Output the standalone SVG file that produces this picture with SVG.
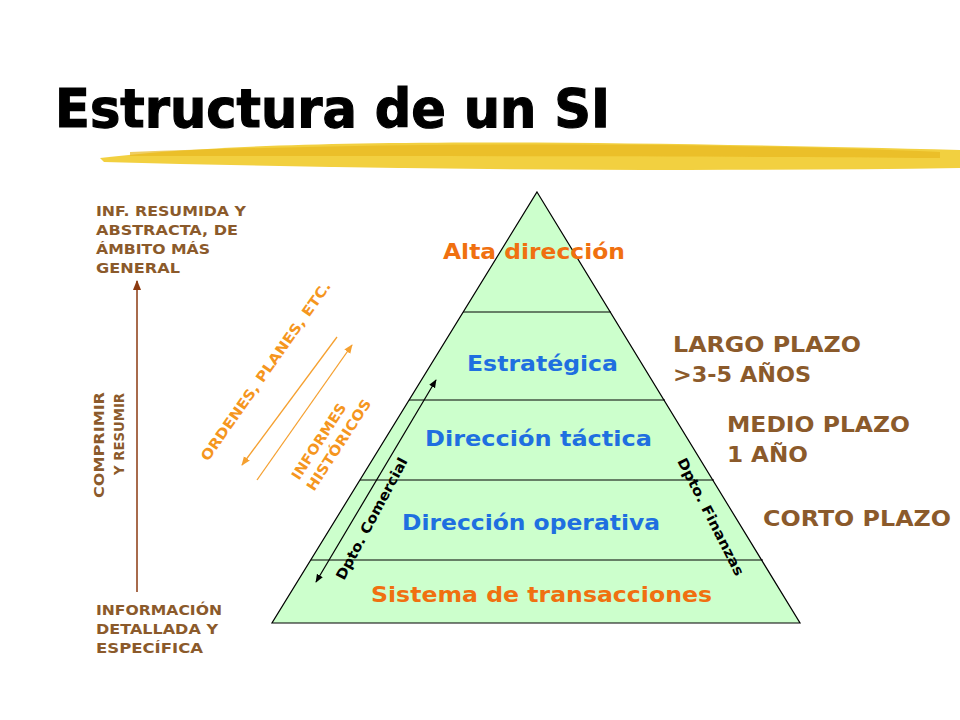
<svg xmlns="http://www.w3.org/2000/svg" width="960" height="720" viewBox="0 0 960 720">
<defs>
<style>
.t{font-family:"DejaVu Sans",Verdana,sans-serif;font-weight:bold}
.br{fill:#8B5A2B}
.bl{fill:#1F6FE0}
.or{fill:#F07010}
.oa{fill:#F5961E}
</style>
<marker id="mb" viewBox="0 0 10 10" refX="9" refY="5" markerWidth="7" markerHeight="7" orient="auto-start-reverse"><path d="M0,1 L10,5 L0,9z" fill="#000"/></marker>
<marker id="mo" viewBox="0 0 10 10" refX="9" refY="5" markerWidth="7" markerHeight="7" orient="auto"><path d="M0,1 L10,5 L0,9z" fill="#F5A030"/></marker>
<marker id="mr" viewBox="0 0 10 10" refX="9" refY="5" markerWidth="7" markerHeight="7" orient="auto"><path d="M0,1 L10,5 L0,9z" fill="#8B3A10"/></marker>
</defs>
<rect width="960" height="720" fill="#fff"/>
<text class="t" x="55" y="127" font-size="54" fill="#000" stroke="#000" stroke-width="1.2" textLength="555" lengthAdjust="spacingAndGlyphs">Estructura de un SI</text>
<g id="brush">
<path d="M100,158 C250,140 500,138 960,150 L960,168 C700,172 400,170 104,162 Z" fill="#F2D040"/>
<path d="M130,152 C400,142 700,142 940,152 L940,158 C700,156 400,156 130,156 Z" fill="#E8B820" opacity="0.7"/>
</g>
<g id="pyramid">
<path d="M537,192 L800,623 L272,623 Z" fill="#CCFFCC" stroke="#000" stroke-width="1.2"/>
<line x1="463" y1="312" x2="611" y2="312" stroke="#000"/>
<line x1="409" y1="400" x2="665" y2="400" stroke="#000"/>
<line x1="360" y1="480" x2="714" y2="480" stroke="#000"/>
<line x1="311" y1="560" x2="763" y2="560" stroke="#000"/>
</g>
<g id="levels">
<text class="t or" x="443" y="259" font-size="21" textLength="182" lengthAdjust="spacingAndGlyphs">Alta dirección</text>
<text class="t bl" x="467" y="371" font-size="21" textLength="151" lengthAdjust="spacingAndGlyphs">Estratégica</text>
<text class="t bl" x="425" y="446" font-size="21" textLength="227" lengthAdjust="spacingAndGlyphs">Dirección táctica</text>
<text class="t bl" x="402" y="530" font-size="21" textLength="258" lengthAdjust="spacingAndGlyphs">Dirección operativa</text>
<text class="t or" x="371" y="602" font-size="21" textLength="341" lengthAdjust="spacingAndGlyphs">Sistema de transacciones</text>
</g>
<g id="plazos">
<text class="t br" x="673" y="352" font-size="21" textLength="188" lengthAdjust="spacingAndGlyphs">LARGO PLAZO</text>
<text class="t br" x="673" y="382" font-size="21" textLength="138" lengthAdjust="spacingAndGlyphs">&gt;3-5 AÑOS</text>
<text class="t br" x="727" y="432" font-size="21" textLength="183" lengthAdjust="spacingAndGlyphs">MEDIO PLAZO</text>
<text class="t br" x="727" y="462" font-size="21" textLength="81" lengthAdjust="spacingAndGlyphs">1 AÑO</text>
<text class="t br" x="763" y="526" font-size="21" textLength="188" lengthAdjust="spacingAndGlyphs">CORTO PLAZO</text>
</g>
<g id="left" class="t br" font-size="14">
<text class="t br" x="96" y="216" textLength="150" lengthAdjust="spacingAndGlyphs">INF. RESUMIDA Y</text>
<text class="t br" x="96" y="235" textLength="142" lengthAdjust="spacingAndGlyphs">ABSTRACTA, DE</text>
<text class="t br" x="96" y="254" textLength="114" lengthAdjust="spacingAndGlyphs">ÁMBITO MÁS</text>
<text class="t br" x="96" y="273" textLength="84" lengthAdjust="spacingAndGlyphs">GENERAL</text>
<text class="t br" x="96" y="615" textLength="126" lengthAdjust="spacingAndGlyphs">INFORMACIÓN</text>
<text class="t br" x="96" y="634" textLength="122" lengthAdjust="spacingAndGlyphs">DETALLADA Y</text>
<text class="t br" x="96" y="653" textLength="107" lengthAdjust="spacingAndGlyphs">ESPECÍFICA</text>
<text class="t br" transform="translate(104,498) rotate(-90)" textLength="106" lengthAdjust="spacingAndGlyphs">COMPRIMIR</text>
<text class="t br" transform="translate(124,475) rotate(-90)" textLength="82" lengthAdjust="spacingAndGlyphs">Y RESUMIR</text>
</g>
<g id="connectors">
<line x1="137" y1="592" x2="137" y2="281" stroke="#8B3A10" stroke-width="1.5" marker-end="url(#mr)"/>
<line x1="337" y1="337" x2="242" y2="465" stroke="#F5A030" stroke-width="1.3" marker-end="url(#mo)"/>
<line x1="257" y1="480" x2="352" y2="345" stroke="#F5A030" stroke-width="1.3" marker-end="url(#mo)"/>
<line x1="316" y1="582" x2="436" y2="380" stroke="#000" stroke-width="1.2" marker-start="url(#mb)" marker-end="url(#mb)"/>
</g>
<g id="diag">
<text class="t oa" font-size="14" transform="translate(208,462) rotate(-55)" textLength="215" lengthAdjust="spacingAndGlyphs">ORDENES, PLANES, ETC.</text>
<text class="t oa" font-size="14" transform="translate(299,481) rotate(-57)" textLength="88" lengthAdjust="spacingAndGlyphs">INFORMES</text>
<text class="t oa" font-size="14" transform="translate(314,492) rotate(-57)" textLength="106" lengthAdjust="spacingAndGlyphs">HISTÓRICOS</text>
<text class="t" font-size="14" transform="translate(344,581) rotate(-62)" textLength="136" lengthAdjust="spacingAndGlyphs">Dpto. Comercial</text>
<text class="t" font-size="14" transform="translate(677,461) rotate(63)" textLength="130" lengthAdjust="spacingAndGlyphs">Dpto. Finanzas</text>
</g>
</svg>
